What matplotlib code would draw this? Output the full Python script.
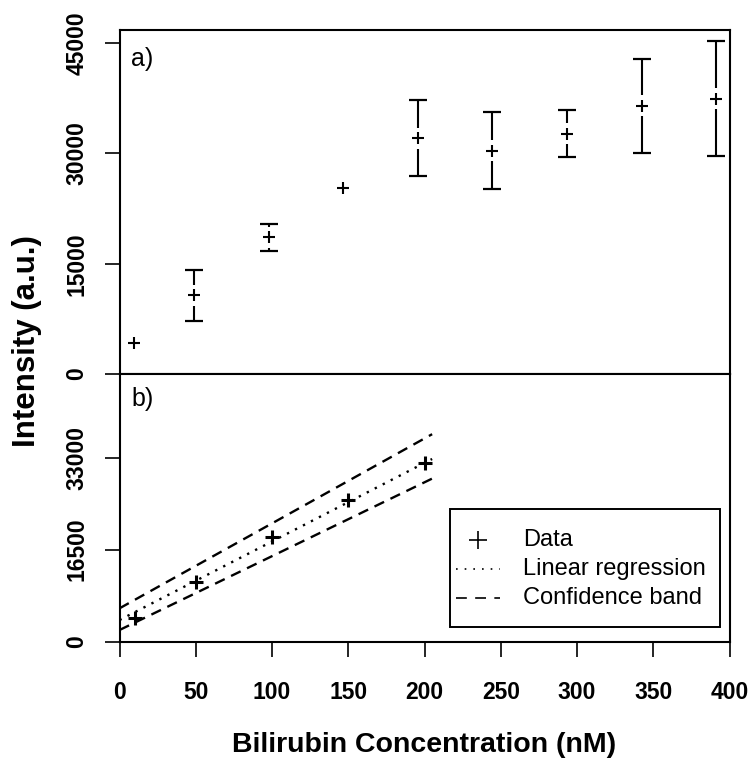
import matplotlib
matplotlib.use("Agg")
import matplotlib.pyplot as plt
from matplotlib.lines import Line2D
from matplotlib.patches import Rectangle

plt.rcParams['font.family'] = ['Liberation Sans', 'DejaVu Sans']

# Panel a) : full concentration series with standard deviations
conc = [10, 50, 100, 150, 200, 250, 300, 350, 400]
intensity = [4200, 10700, 18600, 25350, 32100, 30400, 32700, 36500, 37450]
intensity_sd = [0, 3450, 1800, 0, 5200, 5250, 3150, 6400, 7800]

# Panel b) : linear range used for calibration
lin_conc = [10, 50, 100, 150, 200]
lin_intensity = [4250, 10700, 18700, 25450, 32000]

# Regression line and confidence band (end points)
fit_x = [0, 205]
fit_y = [3850, 32750]
band_upper = [5950, 37200]
band_lower = [2060, 29230]

legend_labels = ['Data', 'Linear regression', 'Confidence band']

top_yticks = [0, 15000, 30000, 45000]
bottom_yticks = [0, 16500, 33000]
bottom_xticks = [0, 50, 100, 150, 200, 250, 300, 350, 400]

W, H = 750, 761
fig = plt.figure(figsize=(W / 100, H / 100), dpi=100)
x0_px, x1_px = 119.5, 729.5
top_px, mid_px, bot_px = 30, 374, 641.5
left, right = x0_px / W, x1_px / W
ax1 = fig.add_axes([left, 1 - mid_px / H, right - left, (mid_px - top_px) / H])
ax2 = fig.add_axes([left, 1 - bot_px / H, right - left, (bot_px - mid_px) / H])

spine_lw = 1.5
for ax in (ax1, ax2):
    for s in ax.spines.values():
        s.set_linewidth(spine_lw)
        s.set_color('black')
    ax.tick_params(direction='out', length=10.5, width=1.2, labelsize=16.5,
                   color='black')

# ---- panel a ----
ax1.set_xlim(0, 409)
ax1.set_ylim(0, 46800)
ax1.set_xticks([])
ax1.set_yticks(top_yticks)
ax1.set_yticklabels([str(v) for v in top_yticks], fontweight='bold',
                    rotation=90, va='center')
ax1.tick_params(axis='y', pad=12)

gap = 10.5 * 46800 / (mid_px - top_px)
for x, y, sd in zip(conc, intensity, intensity_sd):
    if sd > gap:
        ax1.vlines(x, y + gap, y + sd, color='black', lw=1.5)
        ax1.vlines(x, y - sd, y - gap, color='black', lw=1.5)
        ax1.plot([x, x], [y - sd, y + sd], ls='none', marker='_',
                 ms=12.5, mew=1.6, color='black')
ax1.plot(conc, intensity, ls='none', marker='+', ms=8, mew=1.5,
         color='black')
ax1.text(0.019, 0.952, 'a)', transform=ax1.transAxes, fontsize=18,
         va='top', ha='left')

# ---- panel b ----
ax2.set_xlim(0, 400)
ax2.set_ylim(0, 48000)
ax2.set_xticks(bottom_xticks)
ax2.set_xticklabels([str(v) for v in bottom_xticks], fontweight='bold')
ax2.set_yticks(bottom_yticks)
ax2.set_yticklabels([str(v) for v in bottom_yticks], fontweight='bold',
                    rotation=90, va='center')
ax2.tick_params(axis='y', pad=12)
ax2.tick_params(axis='x', pad=18)

ax2.plot(fit_x, band_upper, color='black', lw=1.7, dashes=(4.5, 3.0))
ax2.plot(fit_x, band_lower, color='black', lw=1.7, dashes=(4.5, 3.0))
ax2.plot(fit_x, fit_y, color='black', lw=1.7, dashes=(1.0, 2.8))
ax2.plot(lin_conc, lin_intensity, ls='none', marker='+', ms=9.5, mew=2.2,
         color='black')
ax2.text(0.019, 0.952, 'b)', transform=ax2.transAxes, fontsize=18,
         va='top', ha='left')

# ---- legend box, drawn in axes fraction ----
def fx(px):
    return (px - x0_px) / (x1_px - x0_px)

def fy(py):
    return (bot_px - py) / (bot_px - mid_px)

box_l, box_r, box_t, box_b = 450, 719.5, 508.5, 627
ax2.add_patch(Rectangle((fx(box_l), fy(box_b)), fx(box_r) - fx(box_l),
                        fy(box_t) - fy(box_b), transform=ax2.transAxes,
                        fill=True, facecolor='white', edgecolor='black',
                        lw=1.4, zorder=5))
row_y = [540, 568.5, 597.5]
h_l, h_r, text_x = 456, 500, 523
ax2.plot([fx((h_l + h_r) / 2)], [fy(row_y[0])], transform=ax2.transAxes,
         ls='none', marker='+', ms=13, mew=1.2, color='black', zorder=6)
ax2.add_line(Line2D([fx(h_l), fx(h_r)], [fy(row_y[1])] * 2,
                    transform=ax2.transAxes, color='black', lw=1.2,
                    dashes=(1.0, 4.2), zorder=6))
ax2.add_line(Line2D([fx(h_l), fx(h_r)], [fy(row_y[2])] * 2,
                    transform=ax2.transAxes, color='black', lw=1.2,
                    dashes=(6.5, 5.0), zorder=6))
for lab, ry in zip(legend_labels, row_y):
    ax2.text(fx(text_x), fy(ry), lab, transform=ax2.transAxes, fontsize=17,
             ha='left', va='center', zorder=6)

fig.text(27 / W, 1 - 341 / H, 'Intensity (a.u.)', rotation=90,
         fontsize=22.5, fontweight='bold', ha='center', va='center')
fig.text(424 / W, 1 - 752 / H, 'Bilirubin Concentration (nM)',
         fontsize=20.5, fontweight='bold', ha='center', va='baseline')

fig.savefig('out.png', dpi=100)
